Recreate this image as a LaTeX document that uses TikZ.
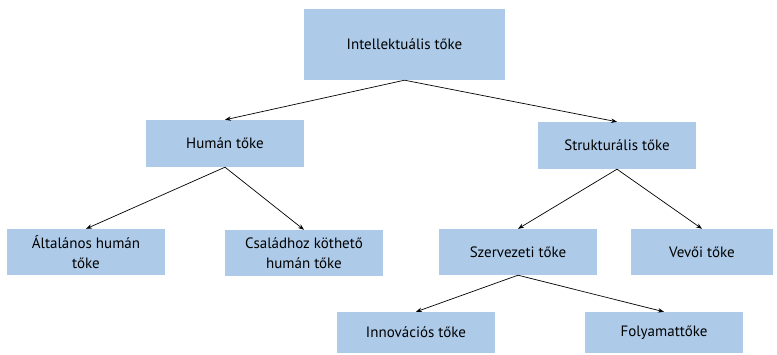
\documentclass[tikz,border=0pt]{standalone}
\usepackage{fontspec}
\setmainfont{PT Sans}
\usetikzlibrary{arrows.meta}
\definecolor{boxblue}{RGB}{173,203,233}
\begin{document}
\begin{tikzpicture}[x=1pt,y=-1pt,
  box/.style={fill=boxblue,draw=none,inner sep=0pt,align=center,font=\fontsize{15}{19.5}\selectfont},
  conn/.style={draw=black,line width=0.7pt,-{Stealth[length=6pt,width=4.5pt]}}]
\useasboundingbox (0,0) rectangle (777,355);
\node[box,minimum width=201pt,minimum height=71pt] (intel) at (404.5,44.5) {Intellektuális tőke};
\node[box,minimum width=158pt,minimum height=47pt] (human) at (225,143.5) {Humán tőke};
\node[box,minimum width=158pt,minimum height=47pt] (strukt) at (617,145.5) {Strukturális tőke};
\node[box,minimum width=158pt,minimum height=46pt] (altal) at (86,252) {Általános humán\\tőke};
\node[box,minimum width=158pt,minimum height=46pt] (csal) at (304,253) {Családhoz köthető\\humán tőke};
\node[box,minimum width=158pt,minimum height=46pt] (szerv) at (518,252) {Szervezeti tőke};
\node[box,minimum width=142pt,minimum height=46pt] (vevoi) at (702,252) {Vevői tőke};
\node[box,minimum width=158pt,minimum height=41pt] (innov) at (416,332.5) {Innovációs tőke};
\node[box,minimum width=158pt,minimum height=41pt] (foly) at (664,332.5) {Folyamattőke};
\draw[conn] (intel.south) -- (human.north);
\draw[conn] (intel.south) -- (strukt.north);
\draw[conn] (human.south) -- (altal.north);
\draw[conn] (human.south) -- (csal.north);
\draw[conn] (strukt.south) -- (szerv.north);
\draw[conn] (strukt.south) -- (vevoi.north);
\draw[conn] (szerv.south) -- (innov.north);
\draw[conn] (szerv.south) -- (foly.north);
\end{tikzpicture}
\end{document}
